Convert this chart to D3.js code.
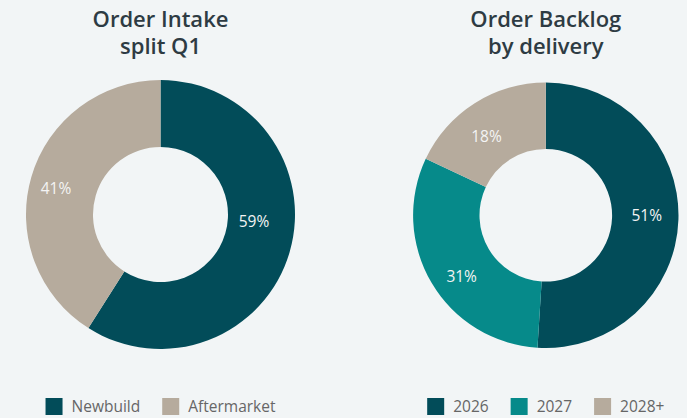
<!DOCTYPE html>
<html>
<head>
<meta charset="utf-8">
<script src="https://cdn.jsdelivr.net/npm/d3@7"></script>
<style>
    html, body { margin: 0; padding: 0; background: #f2f5f6; }
    svg { display: block; }
    .title { font-family: "Open Sans", "Noto Sans", sans-serif; font-weight: 600; fill: #2e3b43; }
    .pct { font-family: "Open Sans", "Noto Sans", sans-serif; fill: #f4f4f4; }
    .legend-label { font-family: "Open Sans", "Noto Sans", sans-serif; fill: #666; }
</style>
</head>
<body>
<svg id="chart"></svg>
<script>
/* Data */
const intakeTitle = ['Order Intake', 'split Q1'];
const intakeCategories = ['Newbuild', 'Aftermarket'];
const intakeValues = [59, 41];

const backlogTitle = ['Order Backlog', 'by delivery'];
const backlogCategories = ['2026', '2027', '2028+'];
const backlogValues = [51, 31, 18];

function initChart() {
    'use strict';

    const config = {
        width: 687,
        height: 418,
        titleSize: 22,
        pctSize: 15.5,
        legendSize: 15.5,
        legendY: 406.5,
        swatch: 17
    };

    const colors = {
        dark: '#024c59',
        teal: '#068a8a',
        beige: '#b6ab9d'
    };

    /* panel layout (center, radii, label nudges) */
    const panels = [
        {
            title: intakeTitle,
            categories: intakeCategories,
            values: intakeValues,
            colors: [colors.dark, colors.beige],
            cx: 160.5, cy: 214.5, outer: 134.5, inner: 67.5,
            nudge: [[-3.5, -21.5], [-7.5, 1.5]]
        },
        {
            title: backlogTitle,
            categories: backlogCategories,
            values: backlogValues,
            colors: [colors.dark, colors.teal, colors.beige],
            cx: 545.8, cy: 215.3, outer: 132.7, inner: 66.3,
            nudge: [[1.5, -3.4], [1.5, 10], [-6, 4.6]]
        }
    ];

    const svg = d3.select('#chart')
        .attr('width', config.width)
        .attr('height', config.height);

    const pie = d3.pie().sort(null).value(d => d);

    panels.forEach(p => {
        const g = svg.append('g');

        // title, one text per line
        g.selectAll('text.title')
            .data(p.title)
            .join('text')
            .attr('class', 'title')
            .attr('text-anchor', 'middle')
            .style('font-size', config.titleSize + 'px')
            .attr('x', p.cx)
            .attr('y', (d, i) => 27 + i * 27)
            .text(d => d);

        // donut
        const arc = d3.arc().innerRadius(p.inner).outerRadius(p.outer);
        const slices = pie(p.values);

        const donut = g.append('g')
            .attr('transform', `translate(${p.cx},${p.cy})`);

        donut.selectAll('path')
            .data(slices)
            .join('path')
            .attr('d', arc)
            .attr('fill', (d, i) => p.colors[i]);

        donut.selectAll('text')
            .data(slices)
            .join('text')
            .attr('class', 'pct')
            .attr('text-anchor', 'middle')
            .attr('dominant-baseline', 'central')
            .style('font-size', config.pctSize + 'px')
            .attr('x', (d, i) => arc.centroid(d)[0] + p.nudge[i][0])
            .attr('y', (d, i) => arc.centroid(d)[1] + p.nudge[i][1])
            .text(d => d.data + '%');

        // legend, centered under the donut
        const legend = g.append('g');
        let x = 0;
        p.categories.forEach((cat, i) => {
            const item = legend.append('g').attr('transform', `translate(${x},0)`);
            item.append('rect')
                .attr('x', 0)
                .attr('y', -config.swatch / 2)
                .attr('width', config.swatch)
                .attr('height', config.swatch)
                .attr('fill', p.colors[i]);
            const t = item.append('text')
                .attr('class', 'legend-label')
                .attr('x', config.swatch + 9)
                .attr('dy', '0.35em')
                .style('font-size', config.legendSize + 'px')
                .text(cat);
            x += config.swatch + 9 + t.node().getComputedTextLength() + 22;
        });
        const legendWidth = x - 22;
        legend.attr('transform', `translate(${p.cx - legendWidth / 2},${config.legendY})`);
    });
}

if (document.readyState === 'loading') {
    document.addEventListener('DOMContentLoaded', initChart);
} else {
    initChart();
}
</script>
</body>
</html>
